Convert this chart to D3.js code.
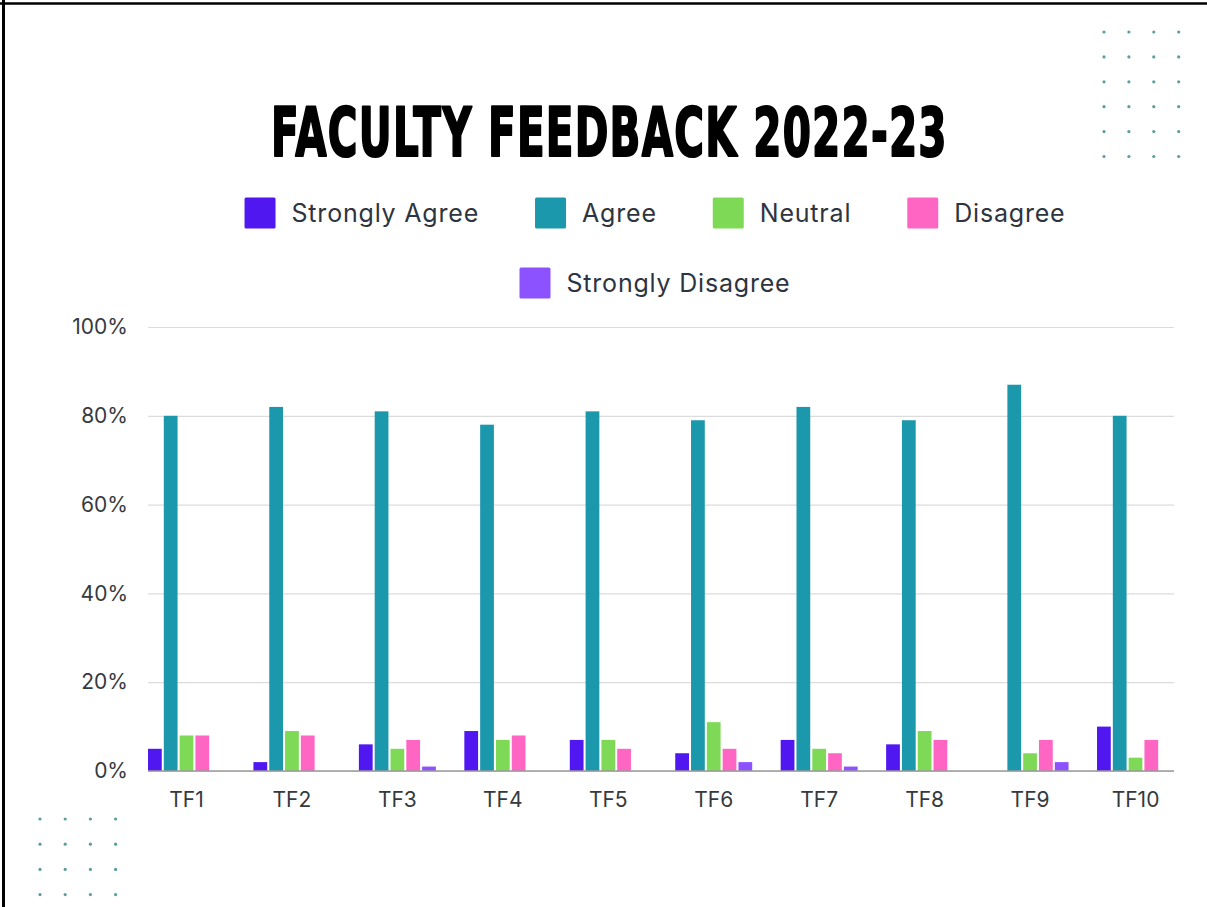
<!DOCTYPE html>
<html>
<head>
<meta charset="utf-8">
<script src="https://cdn.jsdelivr.net/npm/d3@7"></script>
<style>
  html, body { margin: 0; padding: 0; background: #fff; }
  svg { display: block; }
  text { font-family: Inter, "Noto Sans", "DejaVu Sans", sans-serif; }
</style>
</head>
<body>
<svg id="chart" width="1207" height="907"></svg>
<script>
// ---- data ----
const categories = ['TF1', 'TF2', 'TF3', 'TF4', 'TF5', 'TF6', 'TF7', 'TF8', 'TF9', 'TF10'];
const seriesNames = ['Strongly Agree', 'Agree', 'Neutral', 'Disagree', 'Strongly Disagree'];
const seriesColors = ['#5017f0', '#1c98ad', '#7ed957', '#ff66c4', '#8c52ff'];

const stronglyAgree    = [5, 2, 6, 9, 7, 4, 7, 6, 0, 10];
const agree            = [80, 82, 81, 78, 81, 79, 82, 79, 87, 80];
const neutral          = [8, 9, 5, 7, 7, 11, 5, 9, 4, 3];
const disagree         = [8, 8, 7, 8, 5, 5, 4, 7, 7, 7];
const stronglyDisagree = [0, 0, 1, 0, 0, 2, 1, 0, 2, 0];

const yTicks = [0, 20, 40, 60, 80, 100];
const title = 'FACULTY FEEDBACK 2022-23';

const seriesValues = [stronglyAgree, agree, neutral, disagree, stronglyDisagree];
const rows = categories.map((c, i) => ({
  cat: c,
  vals: seriesNames.map((s, k) => ({ key: s, value: seriesValues[k][i] }))
}));

// ---- layout ----
const svg = d3.select('#chart');
const W = 1207, H = 907;
const plot = { left: 148, right: 1174, top: 327, bottom: 771 };

// frame: only top and left edges are visible in the reference
svg.append('line').attr('x1', 0).attr('x2', W).attr('y1', 3.5).attr('y2', 3.5)
  .attr('stroke', '#000').attr('stroke-width', 2.5);
svg.append('line').attr('x1', 3.5).attr('x2', 3.5).attr('y1', 0).attr('y2', H)
  .attr('stroke', '#000').attr('stroke-width', 3);

// decorative dot grids
function dotGrid(x0, y0, cols, rowsN, step) {
  const g = svg.append('g').attr('class', 'dots');
  for (let r = 0; r < rowsN; r++) {
    for (let c = 0; c < cols; c++) {
      g.append('circle').attr('cx', x0 + c * step).attr('cy', y0 + r * step)
        .attr('r', 1.6).attr('fill', '#3f8c8c').attr('fill-opacity', 0.85);
    }
  }
}
dotGrid(1104, 32, 4, 6, 24.9);
dotGrid(40, 819, 4, 4, 25.2);

// title: heavy face, squeezed horizontally to the reference width
const titleG = svg.append('g');
const titleT = titleG.append('text')
  .attr('x', 0).attr('y', 0)
  .style('font-family', '"DejaVu Sans", sans-serif')
  .style('font-weight', 'bold')
  .style('font-size', '67px')
  .style('letter-spacing', '2px')
  .attr('fill', '#000').attr('stroke', '#000').attr('stroke-width', 2.2)
  .attr('stroke-linejoin', 'round')
  .text(title);
const tw = titleT.node().getComputedTextLength();
const titleW = 677;
titleG.attr('transform', `translate(${609.5 - titleW / 2},156) scale(${titleW / tw},1)`);

// ---- scales ----
const x0 = d3.scaleBand().domain(categories).range([plot.left, plot.right])
  .paddingInner(0.27).paddingOuter(0);
const x1 = d3.scaleBand().domain(seriesNames).range([0, x0.bandwidth()])
  .paddingInner(0.13);
const y = d3.scaleLinear().domain([0, 100]).range([plot.bottom, plot.top]);
const color = d3.scaleOrdinal().domain(seriesNames).range(seriesColors);

// gridlines + y labels
const yAxis = d3.axisLeft(y).tickValues(yTicks)
  .tickSize(-(plot.right - plot.left)).tickPadding(20)
  .tickFormat(d => d + '%');
const gy = svg.append('g').attr('transform', `translate(${plot.left},0)`).call(yAxis);
gy.select('.domain').remove();
gy.selectAll('.tick line').attr('stroke', '#dcdcdc').attr('stroke-width', 1.2);
gy.selectAll('.tick text').attr('fill', '#353a40')
  .style('font-size', '21px').style('font-family', 'Inter, "Noto Sans", sans-serif');

// bars
const groups = svg.append('g').selectAll('g').data(rows).join('g')
  .attr('transform', d => `translate(${x0(d.cat)},0)`);
groups.selectAll('rect').data(d => d.vals).join('rect')
  .attr('x', d => x1(d.key))
  .attr('width', x1.bandwidth())
  .attr('y', d => y(d.value))
  .attr('height', d => y(0) - y(d.value))
  .attr('fill', d => color(d.key));

// baseline
svg.append('line').attr('x1', plot.left).attr('x2', plot.right)
  .attr('y1', y(0)).attr('y2', y(0)).attr('stroke', '#9a9a9a').attr('stroke-width', 1.5);

// x labels
const xAxis = d3.axisBottom(x0).tickSize(0).tickPadding(21);
const gx = svg.append('g').attr('transform', `translate(0,${plot.bottom})`).call(xAxis);
gx.select('.domain').remove();
gx.selectAll('.tick text').attr('fill', '#353a40')
  .style('font-size', '21px').style('font-family', 'Inter, "Noto Sans", sans-serif');

// legend: two centred rows
const legendRows = [seriesNames.slice(0, 4), seriesNames.slice(4)];
const legendY = [213, 283];
const sw = 31, swGap = 16, itemGap = 56, legendCenter = 655;
legendRows.forEach((names, ri) => {
  const g = svg.append('g').attr('class', 'legend');
  let cx = 0;
  names.forEach(n => {
    const item = g.append('g').attr('transform', `translate(${cx},0)`);
    item.append('rect').attr('x', 0).attr('y', legendY[ri] - sw / 2)
      .attr('width', sw).attr('height', sw).attr('rx', 1.5).attr('fill', color(n));
    const t = item.append('text').attr('x', sw + swGap).attr('y', legendY[ri])
      .attr('dy', '0.35em').attr('fill', '#2e3440')
      .style('font-size', '25px').style('letter-spacing', '0.8px')
      .text(n);
    cx += sw + swGap + t.node().getComputedTextLength() + itemGap;
  });
  const total = cx - itemGap;
  g.attr('transform', `translate(${legendCenter - total / 2},0)`);
});
</script>
</body>
</html>
